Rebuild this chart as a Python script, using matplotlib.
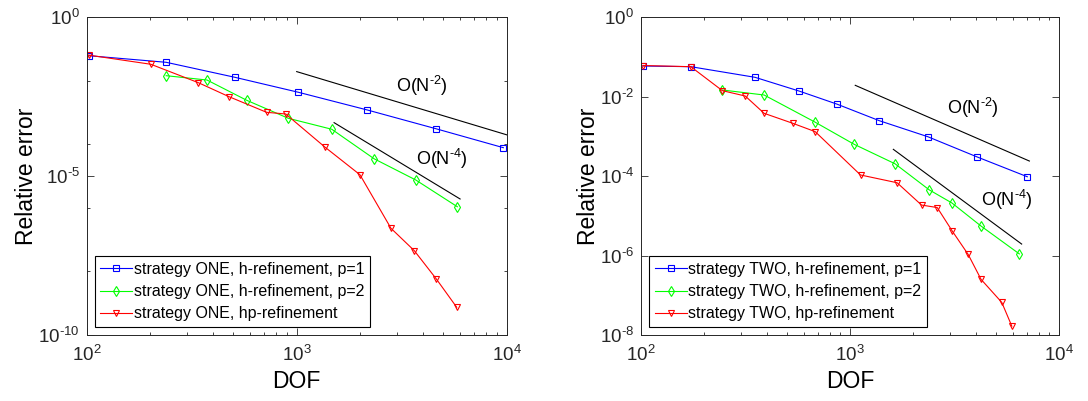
import numpy as np
import matplotlib
matplotlib.use("Agg")
import matplotlib.pyplot as plt
from matplotlib.ticker import LogLocator, NullFormatter, FuncFormatter

plt.rcParams['font.family'] = ['Liberation Sans', 'DejaVu Sans']
plt.rcParams['mathtext.fontset'] = 'custom'
plt.rcParams['mathtext.rm'] = 'Liberation Sans'
plt.rcParams['mathtext.it'] = 'Liberation Sans'
plt.rcParams['axes.unicode_minus'] = False

# strategy ONE
one_h1_dof = [102, 239, 508, 1019, 2168, 4592, 9638]
one_h1_err = [0.0618, 0.0383, 0.0129, 4.36e-3, 1.21e-3, 3.12e-4, 7.87e-5]
one_h2_dof = [239, 374, 578, 912, 1469, 2339, 3690, 5821]
one_h2_err = [0.0145, 0.0106, 2.44e-3, 6.62e-4, 2.99e-4, 3.51e-5, 7.57e-6, 1.09e-6]
one_hp_dof = [102, 202, 340, 476, 719, 887, 1365, 2000, 2812, 3631, 4624, 5781]
one_hp_err = [0.0646, 0.0332, 8.75e-3, 3.17e-3, 1.02e-3, 9.04e-4, 8.13e-5,
              1.11e-5, 2.28e-7, 4.51e-8, 5.79e-9, 7.45e-10]

# strategy TWO
two_h1_dof = [102, 173, 351, 570, 863, 1380, 2355, 4064, 7047]
two_h1_err = [0.0593, 0.0570, 0.0308, 0.0139, 6.55e-3, 2.49e-3, 9.84e-4, 3.03e-4, 9.66e-5]
two_h2_dof = [245, 388, 678, 1047, 1641, 2393, 3076, 4217, 6457]
two_h2_err = [0.01476, 0.01104, 2.31e-3, 6.32e-4, 2.05e-4, 4.51e-5, 2.10e-5, 5.62e-6, 1.10e-6]
two_hp_dof = [102, 173, 245, 315, 388, 532, 681, 1122, 1679, 2198, 2612, 3090,
              3673, 4236, 5321, 5943]
two_hp_err = [0.0610, 0.0570, 0.01419, 0.01042, 3.82e-3, 2.14e-3, 1.32e-3, 1.07e-4,
              6.82e-5, 1.87e-5, 1.62e-5, 4.07e-6, 1.07e-6, 2.51e-7, 6.61e-8, 1.67e-8]

# reference slopes: (x0, x1), (y0, y1)
one_ref2 = ([1000, 10000], [0.0195, 2.0e-4])
one_ref4 = ([1507, 6000], [4.82e-4, 1.91e-6])
two_ref2 = ([1059, 7211], [0.01936, 2.40e-4])
two_ref4 = ([1611, 6622], [4.73e-4, 1.95e-6])
one_txt = [(3950, 6.9e-3), (4900, 3.4e-5)]
two_txt = [(3860, 5.1e-3), (5620, 2.5e-5)]

gray = (0.15, 0.15, 0.15)


def sup(e):
    # MATLAB-style exponent with a plain hyphen
    s = str(int(e))
    if s.startswith('-'):
        return r'$^{\text{-}' + s[1:] + '}$'
    return '$^{' + s + '}$'


pow_fmt = FuncFormatter(lambda v, pos: '10' + sup(round(np.log10(v))))

fig = plt.figure(figsize=(10.88, 4.01), dpi=100)
ax1 = fig.add_axes([0.0797, 0.1646, 0.386, 0.7923])
ax2 = fig.add_axes([0.5892, 0.1646, 0.3842, 0.7923])


def draw(ax, name, h1, h2, hp, ref2, ref4, txt, ylim, yticks):
    ax.loglog(h1[0], h1[1], '-s', color='b', mfc='none', ms=4, lw=0.8, mew=0.8,
              label=f'strategy {name}, h-refinement, p=1')
    ax.loglog(h2[0], h2[1], '-d', color=(0, 1, 0), mfc='none', ms=5, lw=0.8, mew=0.8,
              label=f'strategy {name}, h-refinement, p=2')
    ax.loglog(hp[0], hp[1], '-v', color='r', mfc='none', ms=5, lw=0.8, mew=0.8,
              label=f'strategy {name}, hp-refinement')
    ax.loglog(ref2[0], ref2[1], '-', color='k', lw=0.8)
    ax.loglog(ref4[0], ref4[1], '-', color='k', lw=0.8)
    ax.text(txt[0][0], txt[0][1], 'O(N' + sup(-2) + ')', fontsize=13, ha='center', va='center')
    ax.text(txt[1][0], txt[1][1], 'O(N' + sup(-4) + ')', fontsize=13, ha='center', va='center')
    ax.set_xlim(1e2, 1e4)
    ax.set_ylim(*ylim)
    ax.set_yticks(yticks)
    ax.xaxis.set_major_formatter(pow_fmt)
    ax.yaxis.set_major_formatter(pow_fmt)
    ax.yaxis.set_minor_locator(LogLocator(base=10, subs=[]))
    ax.yaxis.set_minor_formatter(NullFormatter())
    ax.xaxis.set_minor_locator(LogLocator(base=10, subs=np.arange(2, 10)))
    ax.xaxis.set_minor_formatter(NullFormatter())
    ax.tick_params(which='both', direction='in', top=True, right=True,
                   colors=gray, labelsize=13.5, width=0.6)
    ax.tick_params(which='major', length=5, pad=5)
    ax.tick_params(axis='x', which='major', pad=7)
    ax.tick_params(which='minor', length=2.5)
    for s in ax.spines.values():
        s.set_color(gray)
        s.set_linewidth(0.7)
    ax.set_xlabel('DOF', fontsize=16.5, labelpad=4)
    ax.set_ylabel('Relative error', fontsize=16.5, labelpad=0)
    leg = ax.legend(loc='lower left', fontsize=11.5, fancybox=False, framealpha=1,
                    edgecolor='k', handlelength=2.0, handletextpad=0.1,
                    borderpad=0.35, labelspacing=0.45, borderaxespad=0.5)
    leg.get_frame().set_linewidth(0.8)


draw(ax1, 'ONE', (one_h1_dof, one_h1_err), (one_h2_dof, one_h2_err),
     (one_hp_dof, one_hp_err), one_ref2, one_ref4, one_txt,
     (1e-10, 1), [1e-10, 1e-5, 1])
draw(ax2, 'TWO', (two_h1_dof, two_h1_err), (two_h2_dof, two_h2_err),
     (two_hp_dof, two_hp_err), two_ref2, two_ref4, two_txt,
     (1e-8, 1), [1e-8, 1e-6, 1e-4, 1e-2, 1])

fig.savefig('out.png', dpi=100)
